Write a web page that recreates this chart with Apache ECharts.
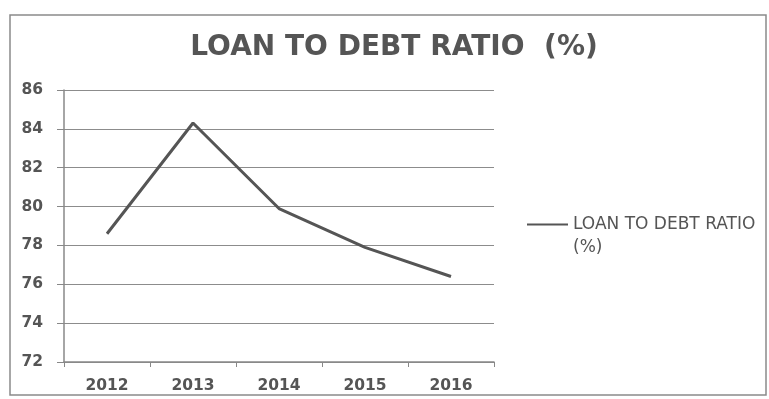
<!DOCTYPE html>
<html>
<head>
<meta charset="utf-8">
<script src="https://cdn.jsdelivr.net/npm/echarts@6/dist/echarts.min.js"></script>
<style>
  html, body { margin: 0; padding: 0; background: #fff; }
  #chart { width: 769px; height: 399px; }
</style>
</head>
<body>
<div id="chart"></div>
<script>
// Loan to debt ratio by year
const years = ['2012', '2013', '2014', '2015', '2016'];
const ratio = [78.6, 84.3, 79.9, 77.9, 76.4];
const seriesName = 'LOAN TO DEBT RATIO (%)';
const legendLines = ['LOAN TO DEBT RATIO', '(%)'];

const chart = echarts.init(document.getElementById('chart'), null, { renderer: 'canvas' });
const font = '"DejaVu Sans", Verdana, sans-serif';
const ink = '#555555';

chart.setOption({
  backgroundColor: '#ffffff',
  animation: false,
  title: {
    text: 'LOAN TO DEBT RATIO  (%)',
    left: 389,
    textAlign: 'center',
    top: 29,
    textStyle: { fontFamily: font, fontWeight: 'bold', fontSize: 28, color: ink }
  },
  graphic: [
    {
      type: 'rect',
      shape: { x: 10, y: 15, width: 756, height: 380 },
      style: { fill: 'none', stroke: '#8a8a8a', lineWidth: 1.5 },
      silent: true
    },
    {
      // second line of the legend label
      type: 'text',
      left: 573,
      top: 239,
      style: { text: legendLines[1], fontFamily: font, fontSize: 17, fill: ink },
      silent: true
    }
  ],
  legend: {
    left: 527,
    top: 216,
    padding: 0,
    icon: 'rect',
    itemWidth: 41,
    itemHeight: 2,
    itemGap: 0,
    formatter: () => legendLines[0],
    textStyle: { fontFamily: font, fontSize: 17, color: ink }
  },
  grid: { left: 64, right: 275, top: 90, bottom: 37, containLabel: false },
  xAxis: {
    type: 'category',
    data: years,
    boundaryGap: true,
    axisLine: { lineStyle: { color: '#888888', width: 1.5 } },
    axisTick: { show: true, length: 5, lineStyle: { color: '#888888' } },
    axisLabel: { margin: 16, fontFamily: font, fontWeight: 'bold', fontSize: 15.5, color: ink }
  },
  yAxis: {
    type: 'value',
    min: 72, max: 86, interval: 2,
    axisLine: { show: true, lineStyle: { color: '#888888', width: 1.5 } },
    axisTick: { show: true, length: 7, lineStyle: { color: '#888888' } },
    splitLine: { lineStyle: { color: '#8c8c8c', width: 1.2 } },
    axisLabel: { margin: 21, fontFamily: font, fontWeight: 'bold', fontSize: 15.5, color: ink }
  },
  series: [{
    name: seriesName,
    type: 'line',
    data: ratio,
    symbol: 'none',
    lineStyle: { color: ink, width: 3 },
    itemStyle: { color: ink }
  }]
});
</script>
</body>
</html>
